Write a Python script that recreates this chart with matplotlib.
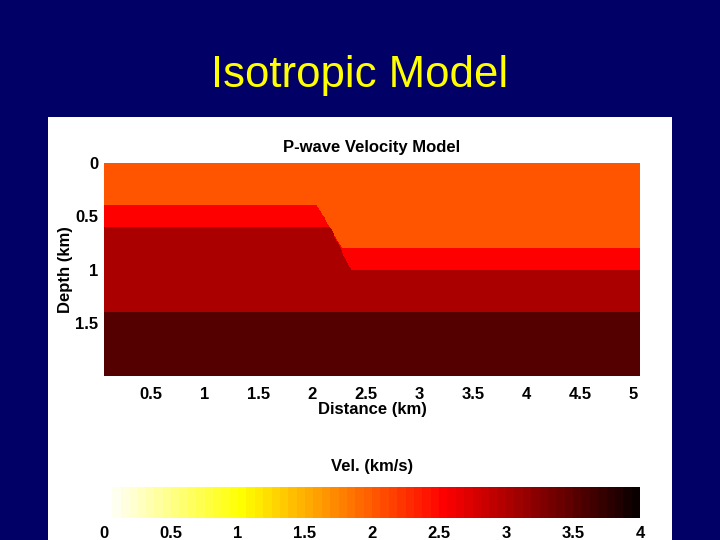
import numpy as np
import matplotlib
matplotlib.use("Agg")
import matplotlib.pyplot as plt

plt.rcParams['font.family'] = ['Liberation Sans', 'DejaVu Sans']

# layer velocities (km/s), top to bottom
layer_vel = [2.0, 2.5, 3.0, 3.5]
# interface depths (km) left / right of the ramp, and ramp x-limits
iface1_left, iface1_right, iface1_x = 0.4, 0.8, (2.05, 2.28)
iface2_left, iface2_right, iface2_x = 0.6, 1.0, (2.17, 2.36)
iface3 = 1.4
x_ticks = [0.5, 1, 1.5, 2, 2.5, 3, 3.5, 4, 4.5, 5]
y_ticks = [0, 0.5, 1, 1.5]
cb_ticks = [0, 0.5, 1, 1.5, 2, 2.5, 3, 3.5, 4]

W, H = 720, 540
fig = plt.figure(figsize=(7.2, 5.4), dpi=100)
fig.patch.set_facecolor('#000066')
fig.text(0.5, 1 - 76 / H, 'Isotropic Model', color='#ffff00', fontsize=31.5,
         ha='center', va='center')

# white panel behind the plot
bg = fig.add_axes([48 / W, 0, 624 / W, 423 / H], zorder=-1)
bg.set_facecolor('white')
bg.set_xticks([])
bg.set_yticks([])
for s in bg.spines.values():
    s.set_visible(False)

def ramp(x, left, right, xr):
    t = np.clip((x - xr[0]) / (xr[1] - xr[0]), 0, 1)
    return left + t * (right - left)

x = np.linspace(0.06, 5.06, 600)
z = np.linspace(0, 2, 400)
X, Z = np.meshgrid(x, z)
d1 = ramp(X, iface1_left, iface1_right, iface1_x)
d2 = ramp(X, iface2_left, iface2_right, iface2_x)
V = np.where(Z < d1, layer_vel[0],
             np.where(Z < d2, layer_vel[1],
                      np.where(Z < iface3, layer_vel[2], layer_vel[3])))

cmap = plt.get_cmap('hot_r', 64)
ax = fig.add_axes([104 / W, 1 - 376 / H, 536 / W, 213 / H])
im = ax.pcolormesh(X, Z, V, cmap=cmap, vmin=0, vmax=4, shading='auto')
ax.set_xlim(0.06, 5.06)
ax.set_ylim(2, 0)
ax.set_xticks(x_ticks)
ax.set_xticklabels([f'{t:g}' for t in x_ticks])
ax.set_yticks(y_ticks)
ax.set_yticklabels([f'{t:g}' for t in y_ticks])
for s in ax.spines.values():
    s.set_visible(False)
ax.tick_params(axis='x', length=0, labelsize=12, pad=8)
ax.tick_params(axis='y', length=0, labelsize=12, pad=4)
for lab in ax.get_xticklabels() + ax.get_yticklabels():
    lab.set_fontweight('bold')
ax.set_title('P-wave Velocity Model', fontsize=12, fontweight='bold', pad=8)
ax.set_xlabel('Distance (km)', fontsize=12, fontweight='bold', labelpad=0)
ax.set_ylabel('Depth (km)', fontsize=12, fontweight='bold', labelpad=2)

cax = fig.add_axes([104 / W, 1 - 518 / H, 536 / W, 31 / H])
cb = fig.colorbar(im, cax=cax, orientation='horizontal', ticks=cb_ticks)
cb.outline.set_visible(False)
cax.tick_params(length=0, labelsize=12, pad=6)
cax.set_xticklabels([f'{t:g}' for t in cb_ticks], fontweight='bold')
fig.text(372 / W, 1 - 466 / H, 'Vel. (km/s)', fontsize=12, fontweight='bold',
         ha='center', va='center')

fig.savefig('out.png', dpi=100, facecolor=fig.get_facecolor())
